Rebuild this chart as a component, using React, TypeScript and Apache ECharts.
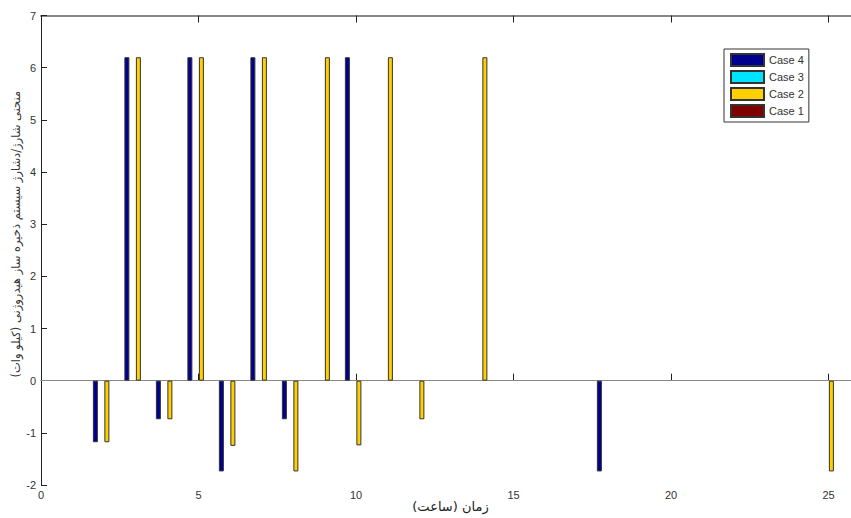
import React, { useEffect, useRef } from 'react';
import * as echarts from 'echarts';

const hours = [1, 2, 3, 4, 5, 6, 7, 8, 9, 10, 11, 12, 13, 14, 15, 16, 17, 18, 19, 20, 21, 22, 23, 24, 25];
const case4 = [0, -1.18, 6.2, -0.74, 6.2, -1.74, 6.2, -0.74, 0, 6.2, 0, 0, 0, 0, 0, 0, 0, -1.74, 0, 0, 0, 0, 0, 0, 0];
const case3 = [0, 0, 0, 0, 0, 0, 0, 0, 0, 0, 0, 0, 0, 0, 0, 0, 0, 0, 0, 0, 0, 0, 0, 0, 0];
const case2 = [0, -1.18, 6.2, -0.74, 6.2, -1.25, 6.2, -1.74, 6.2, -1.24, 6.2, -0.74, 0, 6.2, 0, 0, 0, 0, 0, 0, 0, 0, 0, 0, -1.74];
const case1 = [0, 0, 0, 0, 0, 0, 0, 0, 0, 0, 0, 0, 0, 0, 0, 0, 0, 0, 0, 0, 0, 0, 0, 0, 0];

const seriesNames = ['Case 4', 'Case 3', 'Case 2', 'Case 1'];
const seriesValues = [case4, case3, case2, case1];
const seriesColors = ['#00008f', '#00e5ff', '#ffd000', '#800000'];

const yAxisTitle = 'منحنی شارژ/دشارژ سیستم ذخیره ساز هیدروژنی (کیلو وات)';
const xAxisTitle = 'زمان (ساعت)';

const FONT = "Arial, 'Liberation Sans', 'DejaVu Sans', sans-serif";

export default function App() {
  const ref = useRef<HTMLDivElement>(null);
  useEffect(() => {
    document.body.style.margin = '0';
    document.body.style.overflow = 'hidden';
    if (!ref.current) return;
    const chart = echarts.init(ref.current, null, { renderer: 'svg' });
    const series: any[] = seriesNames.map((name, si) => ({
      type: 'bar',
      name,
      xAxisIndex: 0,
      yAxisIndex: 0,
      barWidth: 5,
      barGap: '15%',
      data: hours
        .map((h, i) => [h, seriesValues[si][i]])
        .filter((d) => d[1] !== 0),
      itemStyle: { color: seriesColors[si], borderColor: '#333', borderWidth: 1 },
    }));
    series[0].markLine = {
      silent: true,
      symbol: ['none', 'none'],
      label: { show: false },
      lineStyle: { color: '#888', type: 'solid', width: 1 },
      data: [{ yAxis: 0 }],
      z: 1,
    };
    chart.setOption({
      animation: false,
      backgroundColor: '#fff',
      textStyle: { fontFamily: FONT },
      grid: { left: 41, top: 15.5, bottom: 33, right: -9, containLabel: false, outerBoundsMode: 'none' },
      legend: {
        orient: 'vertical',
        left: 724,
        top: 49,
        data: seriesNames,
        icon: 'rect',
        itemWidth: 33,
        itemHeight: 12,
        itemGap: 3,
        padding: [4, 5, 4, 6],
        borderColor: '#333',
        borderWidth: 1,
        backgroundColor: '#fff',
        textStyle: { fontSize: 11, color: '#333', fontFamily: FONT },
      },
      xAxis: [
        {
          type: 'value',
          min: 0,
          max: 26,
          interval: 5,
          position: 'bottom',
          axisLine: { show: true, lineStyle: { color: '#222', width: 1 } },
          axisTick: { show: true, inside: true, length: 7, lineStyle: { color: '#222' } },
          axisLabel: { fontSize: 11, color: '#333', margin: 4, showMaxLabel: false },
          splitLine: { show: false },
          name: xAxisTitle,
          nameLocation: 'middle',
          nameGap: 15,
          nameMoveOverlap: false,
          nameTextStyle: { fontSize: 13, color: '#222', fontFamily: "'DejaVu Sans', sans-serif" },
        },
        {
          type: 'value',
          min: 0,
          max: 26,
          interval: 5,
          position: 'top',
          axisLine: { show: true, lineStyle: { color: '#888', width: 2 } },
          axisTick: { show: true, inside: true, length: 7, lineStyle: { color: '#222' } },
          axisLabel: { show: false },
          splitLine: { show: false },
        },
      ],
      yAxis: [
        {
          type: 'value',
          min: -2,
          max: 7,
          interval: 1,
          axisLine: { show: true, lineStyle: { color: '#222', width: 1 } },
          axisTick: { show: true, inside: true, length: 6, lineStyle: { color: '#222' } },
          axisLabel: { fontSize: 11, color: '#333', margin: 5 },
          splitLine: { show: false },
          name: yAxisTitle,
          nameLocation: 'middle',
          nameRotate: 90,
          nameGap: 19,
          nameMoveOverlap: false,
          nameTextStyle: {
            fontSize: 11.5,
            color: '#333',
            fontFamily: "'DejaVu Sans', sans-serif",
            padding: [0, 0, 0, 32],
          },
        },
      ],
      series,
    });
    return () => chart.dispose();
  }, []);
  return <div ref={ref} style={{ width: 851, height: 518 }} />;
}
